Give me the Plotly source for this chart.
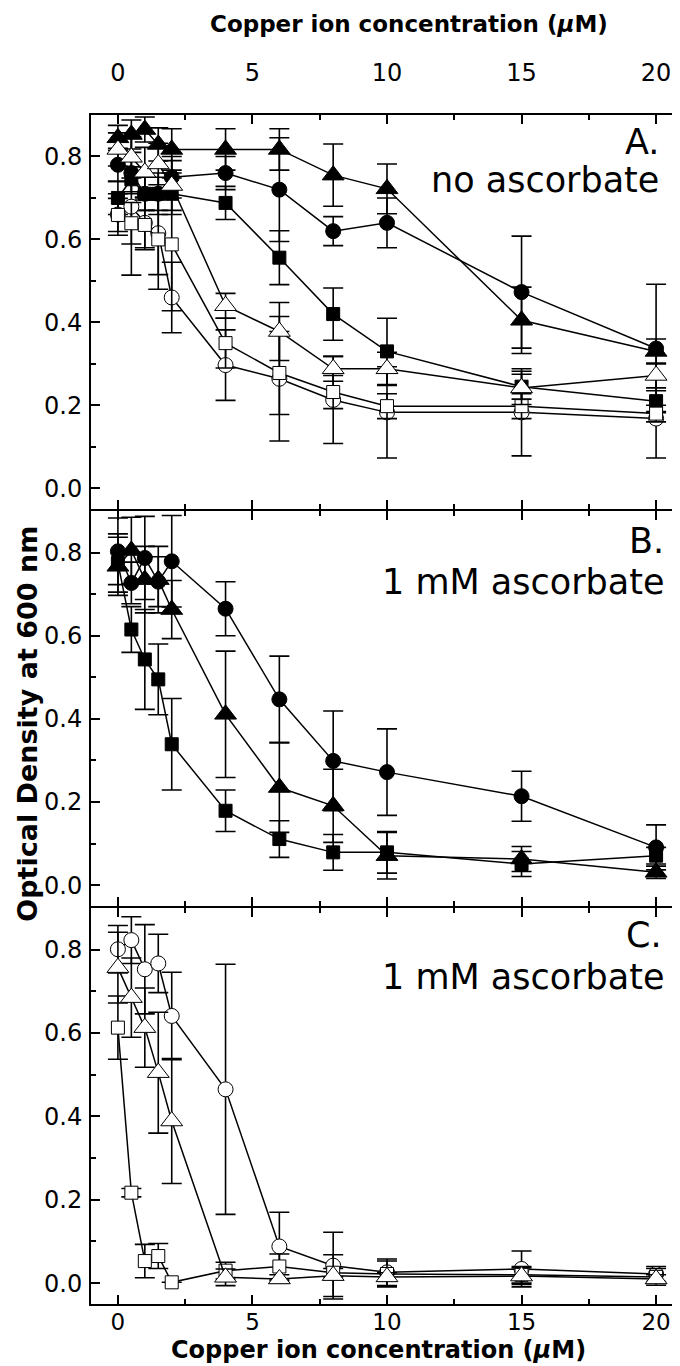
import plotly.graph_objects as go

# ---------------- data ----------------
conc = [0, 0.5, 1, 1.5, 2, 4, 6, 8, 10, 15, 20]
x_ticks = [0, 5, 10, 15, 20]

# Panel A: no ascorbate
a_fill_square = [0.70, 0.745, 0.71, 0.71, 0.71, 0.688, 0.556, 0.42, 0.33, 0.245, 0.21]
a_fill_square_err = [0.04, 0.03, 0.04, 0.04, 0.05, 0.04, 0.065, 0.063, 0.08, 0.03, 0.025]
a_fill_circle = [0.78, 0.76, 0.71, 0.71, 0.75, 0.76, 0.72, 0.62, 0.64, 0.473, 0.337]
a_fill_circle_err = [0.04, 0.05, 0.04, 0.05, 0.05, 0.04, 0.125, 0.035, 0.06, 0.135, 0.155]
a_fill_tri = [0.845, 0.853, 0.865, 0.829, 0.817, 0.817, 0.817, 0.755, 0.722, 0.405, 0.33]
a_fill_tri_err = [0.03, 0.035, 0.03, 0.04, 0.05, 0.05, 0.05, 0.075, 0.06, 0.08, 0.03]
a_open_circle = [0.66, 0.679, 0.64, 0.615, 0.46, 0.297, 0.264, 0.213, 0.183, 0.183, 0.168]
a_open_circle_err = [0.05, 0.165, 0.06, 0.1, 0.085, 0.085, 0.15, 0.105, 0.11, 0.105, 0.095]
a_open_square = [0.659, 0.639, 0.635, 0.60, 0.588, 0.35, 0.278, 0.232, 0.198, 0.198, 0.18]
a_open_square_err = [0.04, 0.05, 0.06, 0.12, 0.16, 0.06, 0.1, 0.04, 0.03, 0.03, 0.02]
a_open_tri = [0.817, 0.798, 0.762, 0.782, 0.73, 0.44, 0.378, 0.288, 0.288, 0.242, 0.272]
a_open_tri_err = [0.04, 0.05, 0.06, 0.05, 0.06, 0.03, 0.07, 0.03, 0.04, 0.04, 0.03]

# Panel B: 1 mM ascorbate (filled symbols)
b_square = [0.775, 0.615, 0.543, 0.495, 0.339, 0.179, 0.111, 0.079, 0.079, 0.051, 0.071]
b_square_err = [0.07, 0.055, 0.12, 0.085, 0.11, 0.05, 0.044, 0.043, 0.05, 0.03, 0.02]
b_circle = [0.803, 0.727, 0.787, 0.73, 0.779, 0.665, 0.447, 0.299, 0.272, 0.214, 0.091]
b_circle_err = [0.08, 0.05, 0.1, 0.06, 0.11, 0.065, 0.104, 0.12, 0.104, 0.06, 0.054]
b_tri = [0.767, 0.805, 0.735, 0.735, 0.663, 0.411, 0.235, 0.191, 0.071, 0.063, 0.031]
b_tri_err = [0.07, 0.08, 0.08, 0.08, 0.07, 0.152, 0.108, 0.088, 0.056, 0.03, 0.015]

# Panel C: 1 mM ascorbate (open symbols)
c_circle = [0.801, 0.823, 0.753, 0.767, 0.641, 0.465, 0.088, 0.042, 0.026, 0.034, 0.022]
c_circle_err = [0.057, 0.056, 0.107, 0.07, 0.105, 0.30, 0.082, 0.08, 0.032, 0.043, 0.018]
c_square = [0.613, 0.217, 0.053, 0.065, 0.002, 0.03, 0.04, 0.025, 0.022, 0.02, 0.015]
c_square_err = [0.076, 0.01, 0.04, 0.03, 0.0, 0.02, 0.03, 0.01, 0.031, 0.02, 0.02]
c_tri = [0.757, 0.685, 0.613, 0.505, 0.389, 0.014, 0.01, 0.018, 0.015, 0.017, 0.01]
c_tri_err = [0.085, 0.095, 0.095, 0.145, 0.15, 0.02, 0.01, 0.05, 0.01, 0.02, 0.01]

FONT = "DejaVu Sans"
SIZES = {"circle": 15, "square": 13, "triangle-up": 19}

fig = go.Figure()


def add(ys, err, symbol, filled, xa, ya):
    fig.add_trace(go.Scatter(
        x=conc, y=ys, mode="lines+markers", xaxis=xa, yaxis=ya,
        line=dict(color="black", width=1.5),
        marker=dict(symbol=symbol, size=SIZES[symbol],
                    color="black" if filled else "white",
                    line=dict(color="black", width=1)),
        error_y=dict(type="data", array=err, color="black", thickness=1.6, width=10),
        showlegend=False, hoverinfo="x+y",
    ))


# Panel A
add(a_fill_square, a_fill_square_err, "square", True, "x", "y")
add(a_fill_circle, a_fill_circle_err, "circle", True, "x", "y")
add(a_fill_tri, a_fill_tri_err, "triangle-up", True, "x", "y")
add(a_open_circle, a_open_circle_err, "circle", False, "x", "y")
add(a_open_square, a_open_square_err, "square", False, "x", "y")
add(a_open_tri, a_open_tri_err, "triangle-up", False, "x", "y")
# Panel B
add(b_square, b_square_err, "square", True, "x2", "y2")
add(b_circle, b_circle_err, "circle", True, "x2", "y2")
add(b_tri, b_tri_err, "triangle-up", True, "x2", "y2")
# Panel C
add(c_circle, c_circle_err, "circle", False, "x3", "y3")
add(c_square, c_square_err, "square", False, "x3", "y3")
add(c_tri, c_tri_err, "triangle-up", False, "x3", "y3")

xcommon = dict(range=[-1, 21], tickvals=x_ticks, ticks="inside", ticklen=9, tickwidth=2,
               tickcolor="black", showline=True, linewidth=2, linecolor="black",
               mirror="ticks", showgrid=False, zeroline=False,
               minor=dict(dtick=2.5, tick0=0, ticks="inside", ticklen=5, tickwidth=1.5,
                          tickcolor="black", showgrid=False),
               tickfont=dict(family=FONT, size=23, color="black"))
ycommon = dict(range=[-0.05, 0.9], tick0=0, dtick=0.2, tickformat=".1f", ticks="inside",
               ticklen=9, tickwidth=2, tickcolor="black", showline=True, linewidth=2,
               linecolor="black", mirror="ticks", showgrid=False, zeroline=False,
               minor=dict(dtick=0.1, tick0=0, ticks="inside", ticklen=5, tickwidth=1.5,
                          tickcolor="black", showgrid=False),
               tickfont=dict(family=FONT, size=24, color="black"), ticklabelstandoff=2)

# plot area spans pixel rows 107..1296; panel borders at 502 and 899.
H = 1189.0


def dom(top_px, bot_px):
    return [(1296 - bot_px) / H, (1296 - top_px) / H]


dA = dom(107, 501)
dB = dom(503, 898)
dC = dom(900, 1296)

fig.update_layout(
    width=680, height=1366,
    margin=dict(l=83, r=3, t=107, b=70),
    paper_bgcolor="white", plot_bgcolor="white",
    font=dict(family=FONT, color="black"),
    xaxis=dict(xcommon, anchor="y", side="top", showticklabels=True,
               ticklabelstandoff=22, tickfont=dict(family=FONT, size=24, color="black")),
    xaxis2=dict(xcommon, anchor="y2", showticklabels=False),
    xaxis3=dict(xcommon, anchor="y3", side="bottom", showticklabels=True, ticklabelstandoff=-4),
    yaxis=dict(ycommon, domain=dA, anchor="x"),
    yaxis2=dict(ycommon, domain=dB, anchor="x2"),
    yaxis3=dict(ycommon, domain=dC, anchor="x3"),
)


def py2paper(py):
    return (1296 - py) / H


def px2paper(px):
    return (px - 83) / 594.0


ann = []
# Axis titles
ann.append(dict(text="<b>Copper ion concentration (<i>μ</i>M)</b>", x=px2paper(200), y=py2paper(1),
                xanchor="left", yanchor="top", font=dict(family=FONT, size=23)))
ann.append(dict(text="<b>Copper ion concentration (<i>μ</i>M)</b>", x=px2paper(371), y=py2paper(1342),
                xanchor="center", yanchor="middle", font=dict(family=FONT, size=24)))
ann.append(dict(text="<b>Optical Density at 600 nm</b>", x=px2paper(1), y=py2paper(716),
                xanchor="left", yanchor="middle", textangle=-90, font=dict(family=FONT, size=27)))
# Panel labels
panel_text = [("A.", 655, 134), ("no ascorbate", 655, 172),
              ("B.", 660, 533), ("1 mM ascorbate", 660, 574),
              ("C.", 658, 927), ("1 mM ascorbate", 660, 969)]
for t, px, py in panel_text:
    ann.append(dict(text=t, x=px2paper(px), y=py2paper(py), xanchor="right", yanchor="middle",
                    font=dict(family=FONT, size=35)))
for a in ann:
    a.update(xref="paper", yref="paper", showarrow=False)
fig.update_layout(annotations=ann)

fig.write_html("out.html")
